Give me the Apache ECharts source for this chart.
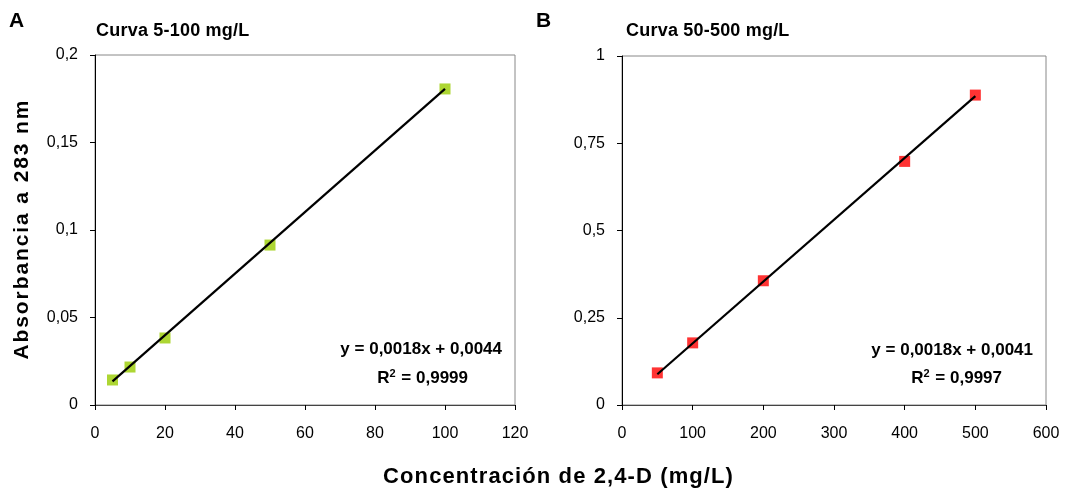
<!DOCTYPE html>
<html><head><meta charset="utf-8">
<script src="https://cdn.jsdelivr.net/npm/echarts@6/dist/echarts.min.js"></script>
<style>html,body{margin:0;padding:0;background:#fff}#c{width:1066px;height:495px}</style>
</head><body><div id="c"></div>
<script>
// Panel A data
const concA = [5, 10, 20, 50, 100];
const absA = [0.0143, 0.0217, 0.0383, 0.0914, 0.1806];
const trendA = [[5, 0.0135], [100, 0.1806]];
// Panel B data
const concB = [50, 100, 200, 400, 500];
const absB = [0.092, 0.178, 0.356, 0.698, 0.888];
const trendB = [[50, 0.088], [500, 0.885]];
const titleA = 'Curva 5-100 mg/L';
const titleB = 'Curva 50-500 mg/L';
const eqA = ['y = 0,0018x + 0,0044', '0,9999'];
const eqB = ['y = 0,0018x + 0,0041', '0,9997'];
const yName = 'Absorbancia a 283 nm';
const xName = 'Concentración de 2,4-D (mg/L)';

const FONT = '"Liberation Sans", Arial, sans-serif';
const fmt = v => String(+v.toFixed(4)).replace('.', ',');
const chart = echarts.init(document.getElementById('c'));

// letter-spaced text via rich segments
function spaced(str, size, pad) {
  const text = Array.from(str).map(ch => '{c|' + (ch === ' ' ? '\u00a0' : ch) + '}').join('');
  return {text: text, rich: {c: {fontFamily: FONT, fontWeight: 'bold', fontSize: size, fill: '#000', padding: [0, pad, 0, pad]}}};
}

function xAxis(idx, max, interval) {
  return {
    type: 'value', gridIndex: idx, min: 0, max: max, interval: interval,
    axisLine: {show: true, onZero: false, lineStyle: {color: '#444', width: 1}},
    axisTick: {show: true, length: 5, lineStyle: {color: '#000'}},
    axisLabel: {color: '#000', fontFamily: FONT, fontSize: 16, margin: 21},
    splitLine: {show: false}
  };
}
function yAxis(idx, max, interval) {
  return {
    type: 'value', gridIndex: idx, min: 0, max: max, interval: interval,
    axisLine: {show: true, onZero: false, lineStyle: {color: '#000', width: 1}},
    axisTick: {show: true, length: 5, lineStyle: {color: '#000'}},
    axisLabel: {color: '#000', fontFamily: FONT, fontSize: 16, margin: 17, formatter: fmt},
    splitLine: {show: false}
  };
}
function eqLine(x, y, s) {
  return {type: 'text', x: x, y: y, z: 100, style: {
    text: '{a|' + s + '}', align: 'right', verticalAlign: 'middle',
    rich: {a: {fontFamily: FONT, fontWeight: 'bold', fontSize: 17, fill: '#000'}}}};
}
function r2Line(x, y, s) {
  return {type: 'text', x: x, y: y, z: 100, style: {
    text: '{b|R}{s|2}{b| = ' + s + '}', align: 'right', verticalAlign: 'middle',
    rich: {b: {fontFamily: FONT, fontWeight: 'bold', fontSize: 17, fill: '#000'},
           s: {fontFamily: FONT, fontWeight: 'bold', fontSize: 11, fill: '#000', padding: [0, 1, 9, 0]}}}};
}

chart.setOption({
  animation: false,
  grid: [
    {left: 95, top: 55, width: 420, height: 350, show: true, borderColor: '#888', borderWidth: 1, backgroundColor: '#fff'},
    {left: 622, top: 56, width: 424, height: 349, show: true, borderColor: '#888', borderWidth: 1, backgroundColor: '#fff'}
  ],
  xAxis: [xAxis(0, 120, 20), xAxis(1, 600, 100)],
  yAxis: [yAxis(0, 0.2, 0.05), yAxis(1, 1, 0.25)],
  series: [
    {type: 'scatter', xAxisIndex: 0, yAxisIndex: 0, symbol: 'rect', symbolSize: 11,
     itemStyle: {color: '#99cc00'}, data: concA.map((c, i) => [c, absA[i]]), z: 2},
    {type: 'line', xAxisIndex: 0, yAxisIndex: 0, data: trendA, showSymbol: false, symbol: 'none',
     lineStyle: {color: '#000', width: 2.2}, z: 3},
    {type: 'scatter', xAxisIndex: 1, yAxisIndex: 1, symbol: 'rect', symbolSize: 11,
     itemStyle: {color: '#ff0000'}, data: concB.map((c, i) => [c, absB[i]]), z: 2},
    {type: 'line', xAxisIndex: 1, yAxisIndex: 1, data: trendB, showSymbol: false, symbol: 'none',
     lineStyle: {color: '#000', width: 2.2}, z: 3}
  ],
  graphic: [
    {type: 'text', x: 9, y: 21, style: {text: 'A', font: 'bold 21px ' + FONT, fill: '#000', verticalAlign: 'middle'}},
    {type: 'text', x: 536, y: 21, style: {text: 'B', font: 'bold 21px ' + FONT, fill: '#000', verticalAlign: 'middle'}},
    {type: 'text', x: 96, y: 31, style: Object.assign(spaced(titleA, 18, 0.1), {verticalAlign: 'middle'})},
    {type: 'text', x: 626, y: 31, style: Object.assign(spaced(titleB, 18, 0.1), {verticalAlign: 'middle'})},
    {type: 'text', x: 22, y: 230, rotation: Math.PI / 2, z: 100,
     style: Object.assign(spaced(yName, 21, 0.95), {align: 'center', verticalAlign: 'middle'})},
    {type: 'text', x: 558, y: 477, z: 100,
     style: Object.assign(spaced(xName, 22, 0.55), {align: 'center', verticalAlign: 'middle'})},
    eqLine(502, 349, eqA[0]),
    r2Line(468, 378, eqA[1]),
    eqLine(1033, 350, eqB[0]),
    r2Line(1002, 378, eqB[1])
  ]
});
</script></body></html>
